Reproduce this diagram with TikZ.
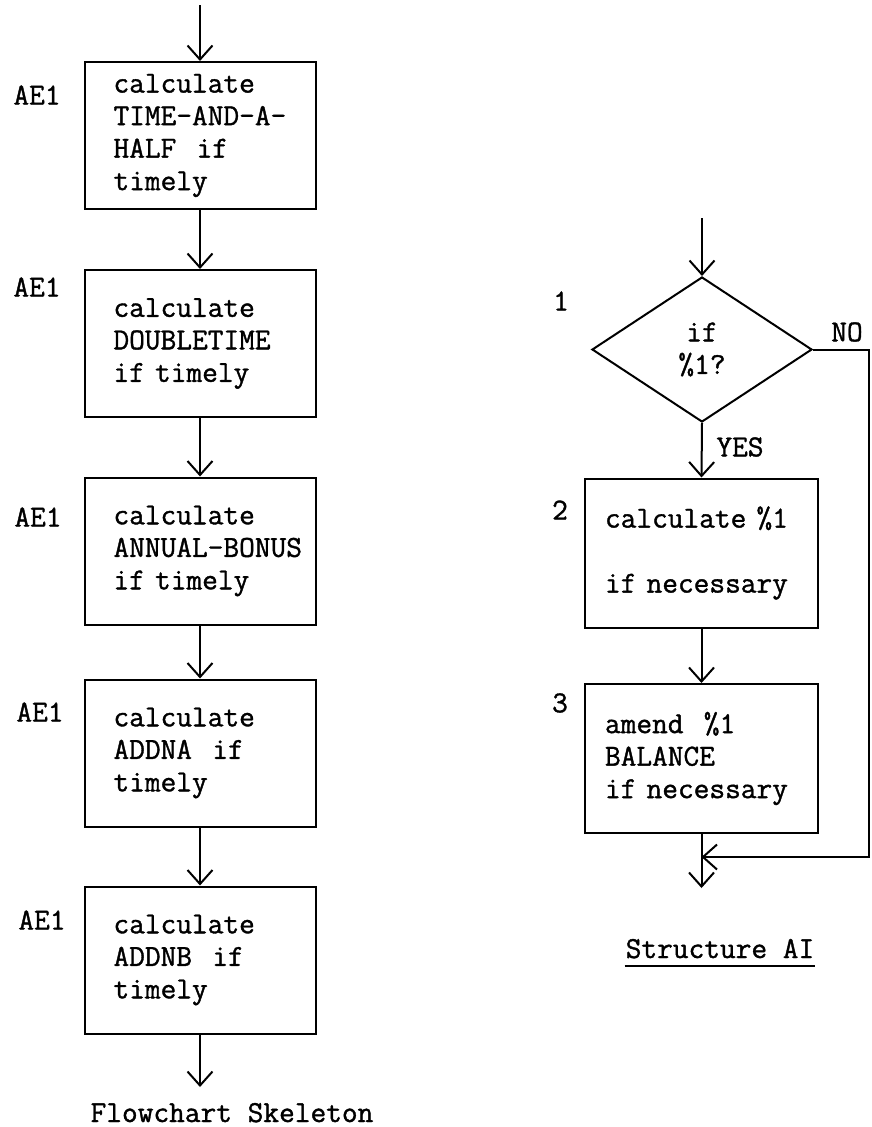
\documentclass[tikz,border=0pt]{standalone}
\usepackage{fontspec}
\setmonofont{Latin Modern Mono}[FakeBold=1.2]
\usetikzlibrary{arrows.meta, shapes.geometric}

\begin{document}
\begin{tikzpicture}[
  x=1pt, y=-1pt,
  font=\ttfamily\fontsize{30.5}{32.5}\selectfont,
  box/.style={draw, line width=2pt, text width=173pt, inner xsep=29pt,
              inner ysep=4pt, minimum height=147pt, align=left},
  rbox/.style={box, text width=193pt, inner xsep=20pt, minimum height=149pt},
  choice/.style={draw, diamond, line width=2pt, minimum width=220pt,
                 minimum height=145pt, align=center, inner sep=0pt},
  tag/.style={inner sep=1pt},
  arr/.style={-{Straight Barb[length=14pt, width=25pt]}, line width=2pt},
]
\useasboundingbox (0,0) rectangle (871,1127);

% Flowchart Skeleton
\coordinate (in) at (200,5);
\node[box] (b1) at (200,135.5) {calculate\\\mbox{TIME-AND-A-}\\HALF~~if\\timely};
\node[box] (b2) at (200,343.5) {calculate\\DOUBLETIME\\if timely};
\node[box] (b3) at (200,551)   {calculate\\\mbox{ANNUAL-BONUS}\\if timely};
\node[box] (b4) at (200,753)   {calculate\\ADDNA~~if\\timely};
\node[box] (b5) at (200,960)   {calculate\\ADDNB~~if\\timely};
\coordinate (out) at (200,1087);

\node[tag] (t1) at (37,95)  {AE1};
\node[tag] (t2) at (37,287) {AE1};
\node[tag] (t3) at (38,517) {AE1};
\node[tag] (t4) at (40,712) {AE1};
\node[tag] (t5) at (42,920) {AE1};

\draw[arr] (in) -- (b1.north);
\draw[arr] (b1.south) -- (b2.north);
\draw[arr] (b2.south) -- (b3.north);
\draw[arr] (b3.south) -- (b4.north);
\draw[arr] (b4.south) -- (b5.north);
\draw[arr] (b5.south) -- (out);

\node[tag, anchor=base] (cap1) at (232,1122) {Flowchart Skeleton};

% Structure AI
\coordinate (top) at (702,218);
\node[choice] (dec) at (702,349.5) {if\\\%1?};
\node[rbox] (r2) at (701.5,553)   {calculate \%1\\[32.5pt]if necessary};
\node[rbox] (r3) at (701.5,758.5) {amend~~\%1\\BALANCE\\if necessary};
\coordinate (join) at (701.5,857);
\coordinate (end) at (701.5,888);

\node[tag] (n1) at (561,301) {1};
\node[tag] (n2) at (560,510) {2};
\node[tag] (n3) at (560,703) {3};
\node[tag] (yes) at (740,447) {YES};
\node[tag] (no)  at (847,332) {NO};

\draw[arr] (top) -- (dec.north);
\draw[arr] (dec.south) -- (r2.north);
\draw[arr] (r2.south) -- (r3.north);
\draw[arr] (r3.south) -- (end);
\draw[arr] (dec.east) -- ++(56,0) |- (join);

\node[tag, anchor=base] (cap2) at (720,958) {Structure AI};
\draw[line width=2pt] ([yshift=-8pt]cap2.base west) -- ([yshift=-8pt]cap2.base east);

\end{tikzpicture}
\end{document}
